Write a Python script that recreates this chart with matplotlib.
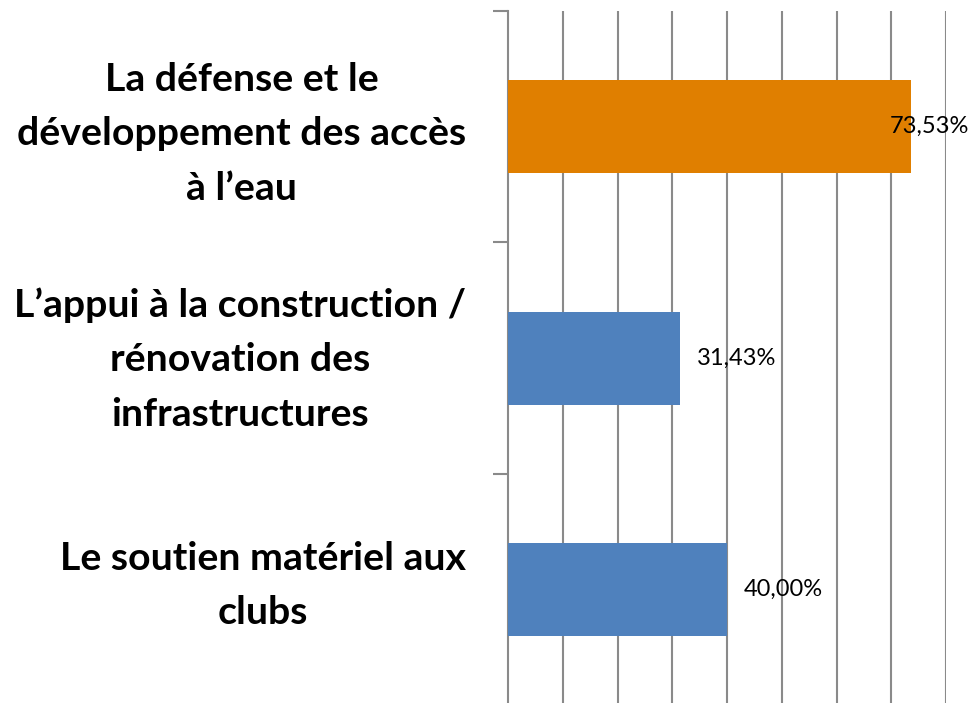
import matplotlib.pyplot as plt
import matplotlib.transforms as mtransforms

categories = ["La défense et le\ndéveloppement des accès\nà l\u2019eau",
              "L\u2019appui à la construction /\nrénovation des\ninfrastructures",
              "Le soutien matériel aux\nclubs"]
values = [73.53, 31.43, 40.00]
colors = ["#E07F00", "#4F81BD", "#4F81BD"]
value_labels = ["73,53%", "31,43%", "40,00%"]

fig = plt.figure(figsize=(9.69, 7.03), dpi=100)
ax = fig.add_axes([508 / 969, -0.0036, (946 - 508) / 969, 0.988])

ypos = list(range(len(categories)))
ax.barh(ypos, values, height=0.4, color=colors, zorder=3)

for y, v, lab in zip(ypos, values, value_labels):
    ax.text(min(v + 3.0, 69.8), y, lab, va="center", ha="left",
            fontsize=17, family="Lato", color="black", zorder=4)

ax.set_xlim(0, 80)
ax.set_ylim(2.5, -0.5)
ax.set_xticks(range(10, 81, 10))
ax.tick_params(axis="x", length=0, labelbottom=False)
ax.grid(axis="x", color="#8a8a8a", linewidth=1.5, zorder=0)

ax.set_yticks([-0.5, 0.5, 1.5, 2.5])
ax.set_yticklabels([])
ax.tick_params(axis="y", which="major", length=11, width=1.5, color="#8a8a8a")

# category labels, nudged a little like the original layout
trans = mtransforms.blended_transform_factory(ax.transAxes, ax.transData)
nudge = [-5.0, -1.0, 3.2]
for y, cat, dy in zip(ypos, categories, nudge):
    ax.annotate(cat, xy=(0, y), xycoords=trans, xytext=(-30.2, dy),
                textcoords="offset points", ha="right", va="center",
                multialignment="center", fontsize=28.3, fontweight="bold",
                family="Lato", linespacing=1.67, annotation_clip=False)

for s in ["top", "right", "bottom"]:
    ax.spines[s].set_visible(False)
ax.spines["left"].set_color("#8a8a8a")
ax.spines["left"].set_linewidth(1.5)

fig.savefig("out.png", dpi=100)
